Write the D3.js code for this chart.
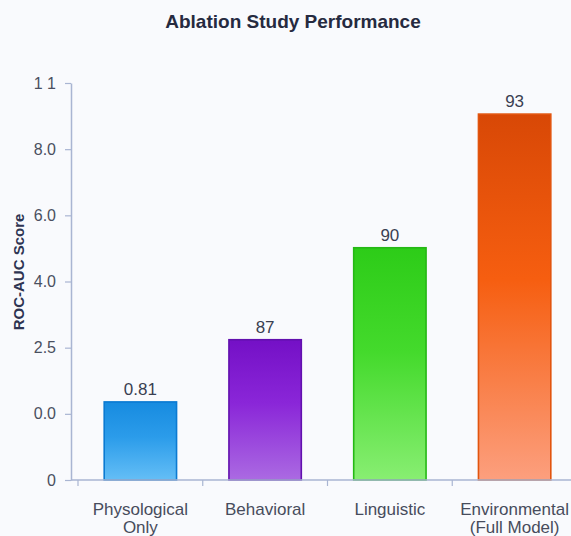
<!DOCTYPE html>
<html>
<head>
<meta charset="utf-8">
<script src="https://cdn.jsdelivr.net/npm/d3@7"></script>
<style>
  html, body { margin: 0; padding: 0; background: #f9fafd; }
  svg { display: block; font-family: "Liberation Sans", Arial, Helvetica, sans-serif; }
</style>
</head>
<body>
<svg id="chart" width="571" height="536"></svg>
<script>
// Ablation study: one bar per feature group
const categories = ["Physological Only", "Behavioral", "Linguistic", "Environmental (Full Model)"];
const categoryLines = [["Physological", "Only"], ["Behavioral"], ["Linguistic"], ["Environmental", "(Full Model)"]];
// bar heights in axis steps (one step per y tick)
const barLevels = [1.18, 2.12, 3.51, 5.53];
const valueLabels = ["0.81", "87", "90", "93"];
const yTickLabels = ["0", "0.0", "2.5", "4.0", "6.0", "8.0", "1 1"];

// top / middle / bottom gradient stops and edge colour per bar
const palette = [
  { top: "#178be0", mid: "#2b9cea", bottom: "#64bef6", edge: "#0b7ad2" },
  { top: "#7410c6", mid: "#8a26d8", bottom: "#ab6ae2", edge: "#6210ae" },
  { top: "#2dcc18", mid: "#44da2c", bottom: "#88ee72", edge: "#25b814" },
  { top: "#d84806", mid: "#f65e10", bottom: "#fc9f7e", edge: "#e2540e" }
];

const svg = d3.select("#chart");
const width = 571, height = 536;
const margin = { left: 71, top: 83, bottom: 480 };

svg.append("rect").attr("width", width).attr("height", height).attr("fill", "#f9fafd");

const x = d3.scaleBand()
  .domain(categories)
  .range([78, 577])
  .paddingInner(0.42)
  .paddingOuter(0.21);

const y = d3.scaleLinear()
  .domain([0, yTickLabels.length - 1])
  .range([margin.bottom, margin.top]);

// gradients
const defs = svg.append("defs");
palette.forEach((p, i) => {
  const g = defs.append("linearGradient")
    .attr("id", "grad" + i)
    .attr("x1", 0).attr("y1", 0).attr("x2", 0).attr("y2", 1);
  g.append("stop").attr("offset", "0%").attr("stop-color", p.top);
  g.append("stop").attr("offset", "45%").attr("stop-color", p.mid);
  g.append("stop").attr("offset", "100%").attr("stop-color", p.bottom);
});

// title
svg.append("text")
  .attr("x", 293).attr("y", 28)
  .attr("text-anchor", "middle")
  .attr("font-size", 19).attr("font-weight", "bold")
  .attr("fill", "#262a40")
  .text("Ablation Study Performance");

// y axis label
svg.append("text")
  .attr("transform", "translate(24,272) rotate(-90)")
  .attr("text-anchor", "middle")
  .attr("font-size", 15).attr("font-weight", "bold")
  .attr("fill", "#2e3452")
  .text("ROC-AUC Score");

// bars
const bars = svg.append("g");
bars.selectAll("rect")
  .data(categories)
  .join("rect")
  .attr("x", d => x(d))
  .attr("width", x.bandwidth())
  .attr("y", (d, i) => y(barLevels[i]))
  .attr("height", (d, i) => y(0) - y(barLevels[i]))
  .attr("fill", (d, i) => `url(#grad${i})`)
  .attr("stroke", (d, i) => palette[i].edge)
  .attr("stroke-width", 1.6);

// value labels
svg.append("g").selectAll("text")
  .data(categories)
  .join("text")
  .attr("x", d => x(d) + x.bandwidth() / 2)
  .attr("y", (d, i) => y(barLevels[i]) - 7)
  .attr("text-anchor", "middle")
  .attr("font-size", 17)
  .attr("fill", "#3a3f52")
  .text((d, i) => valueLabels[i]);

// y axis
const yAxis = svg.append("g")
  .attr("transform", `translate(${margin.left},0)`)
  .call(d3.axisLeft(y)
    .tickValues(d3.range(yTickLabels.length))
    .tickFormat(i => yTickLabels[i])
    .tickSize(6)
    .tickSizeOuter(0)
    .tickPadding(9));
yAxis.select(".domain").attr("stroke", "#a9b5d2").attr("stroke-width", 1.5);
yAxis.selectAll(".tick line").attr("stroke", "#a9b5d2").attr("stroke-width", 1.2);
yAxis.selectAll(".tick text")
  .attr("font-size", 16)
  .attr("font-family", "\"Liberation Sans\", Arial, sans-serif")
  .attr("fill", "#4a4f60");

// x axis
const xAxis = svg.append("g").attr("transform", `translate(0,${margin.bottom})`);
xAxis.append("line")
  .attr("x1", margin.left).attr("x2", width)
  .attr("stroke", "#a9b5d2").attr("stroke-width", 1.5);
const boundaryOffset = x.step() * x.paddingInner() / 2;
xAxis.selectAll(".xtick")
  .data(categories)
  .join("line")
  .attr("class", "xtick")
  .attr("x1", d => x(d) - boundaryOffset)
  .attr("x2", d => x(d) - boundaryOffset)
  .attr("y1", 0).attr("y2", 6)
  .attr("stroke", "#a9b5d2").attr("stroke-width", 1.2);

const catLabels = xAxis.selectAll(".xlabel")
  .data(categories)
  .join("text")
  .attr("class", "xlabel")
  .attr("x", d => x(d) + x.bandwidth() / 2)
  .attr("y", 35)
  .attr("text-anchor", "middle")
  .attr("font-size", 17)
  .attr("fill", "#474c5c");
catLabels.each(function (d, i) {
  const t = d3.select(this);
  categoryLines[i].forEach((line, k) => {
    t.append("tspan")
      .attr("x", x(d) + x.bandwidth() / 2)
      .attr("dy", k === 0 ? 0 : 18)
      .text(line);
  });
});
</script>
</body>
</html>
